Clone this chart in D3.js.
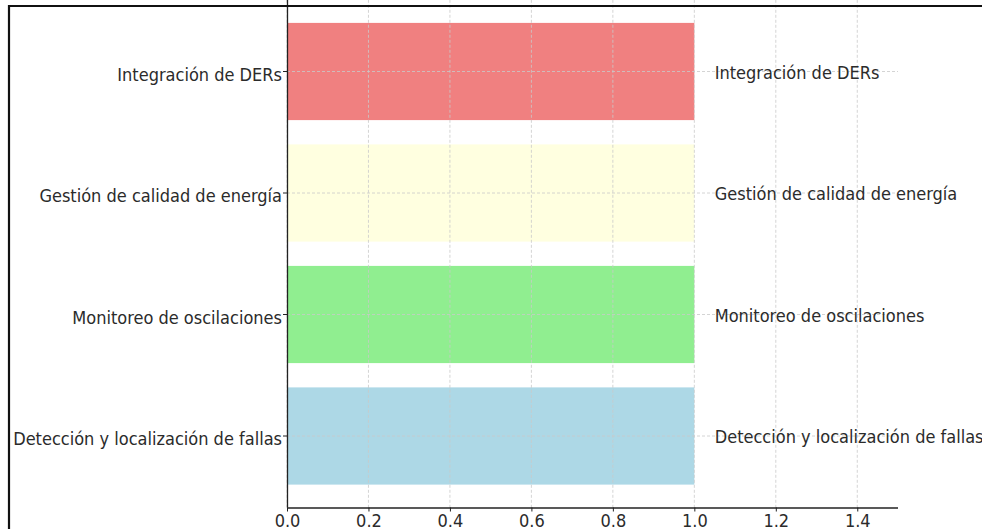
<!DOCTYPE html>
<html>
<head>
<meta charset="utf-8">
<script src="https://cdn.jsdelivr.net/npm/d3@7"></script>
<style>
  html, body { margin: 0; padding: 0; background: #fff; }
  svg { display: block; }
  text { font-family: "DejaVu Sans Condensed", "DejaVu Sans", sans-serif; font-stretch: condensed; fill: #2b2b2b; }
</style>
</head>
<body>
<svg id="chart" width="982" height="529"></svg>
<script>
// Data (top to bottom as drawn)
const categories = ["Integración de DERs", "Gestión de calidad de energía", "Monitoreo de oscilaciones", "Detección y localización de fallas"];
const values = [1, 1, 1, 1];
const barColors = ["#F08080", "#FFFFE0", "#90EE90", "#ADD8E6"];
const xTicks = [0.0, 0.2, 0.4, 0.6, 0.8, 1.0, 1.2, 1.4];
const labelOffset = 0.05;

const svg = d3.select("#chart");
const W = 982, H = 529;
const pLeft = 287, pRight = 898, pTop = -0.2, pBottom = 507.5;

const x = d3.scaleLinear().domain([0, 1.5]).range([pLeft, pRight]);
const y = d3.scaleBand().domain(categories).range([10.75, 496.75]).paddingInner(0.2).paddingOuter(0.1);

const fs = 18;

// bars
svg.append("g").selectAll("rect").data(categories).join("rect")
  .attr("x", x(0))
  .attr("y", d => y(d))
  .attr("width", (d, i) => x(values[i]) - x(0))
  .attr("height", y.bandwidth())
  .attr("fill", (d, i) => barColors[i]);

// grid (drawn over bars, as in matplotlib)
const grid = svg.append("g").attr("stroke", "#c9c9c9").attr("stroke-width", 0.8).attr("stroke-dasharray", "3,2");
grid.selectAll("line.v").data(xTicks).join("line").attr("class", "v")
  .attr("x1", d => x(d)).attr("x2", d => x(d)).attr("y1", pTop).attr("y2", pBottom);
grid.selectAll("line.h").data(categories).join("line").attr("class", "h")
  .attr("x1", pLeft).attr("x2", pRight)
  .attr("y1", d => y(d) + y.bandwidth() / 2).attr("y2", d => y(d) + y.bandwidth() / 2);

// axes
const xAxis = d3.axisBottom(x).tickValues(xTicks).tickFormat(d3.format(".1f")).tickSize(4).tickPadding(3);
const gx = svg.append("g").attr("transform", `translate(0,${pBottom})`).call(xAxis);
gx.select(".domain").attr("d", `M${pLeft},0.5H${pRight}`).attr("stroke", "#222").attr("stroke-width", 1.3);
gx.selectAll(".tick line").attr("stroke", "#222").attr("stroke-width", 1);
gx.selectAll(".tick text").attr("font-size", fs).attr("font-family", null).attr("dy", null).attr("y", 19).attr("fill", "#2b2b2b");

const yAxis = d3.axisLeft(y).tickSize(4).tickPadding(1);
const gy = svg.append("g").attr("transform", `translate(${pLeft},0)`).call(yAxis);
gy.select(".domain").attr("d", `M0.5,${pTop}V${pBottom}`).attr("stroke", "#222").attr("stroke-width", 1.3);
gy.selectAll(".tick line").attr("stroke", "#222").attr("stroke-width", 1);
gy.selectAll(".tick text").attr("font-size", fs).attr("font-family", null).attr("dy", null).attr("y", 9.3).attr("fill", "#2b2b2b");

// value-side labels
svg.append("g").selectAll("text").data(categories).join("text")
  .attr("x", (d, i) => x(values[i] + labelOffset))
  .attr("y", d => y(d) + y.bandwidth() / 2 + 7)
  .attr("font-size", fs)
  .text(d => d);

// outer frame (cropped screenshot border)
svg.append("line").attr("x1", 8).attr("x2", W).attr("y1", 6).attr("y2", 6).attr("stroke", "#111").attr("stroke-width", 2.2);
svg.append("line").attr("x1", 9).attr("x2", 9).attr("y1", 5).attr("y2", H).attr("stroke", "#111").attr("stroke-width", 2.2);
</script>
</body>
</html>
